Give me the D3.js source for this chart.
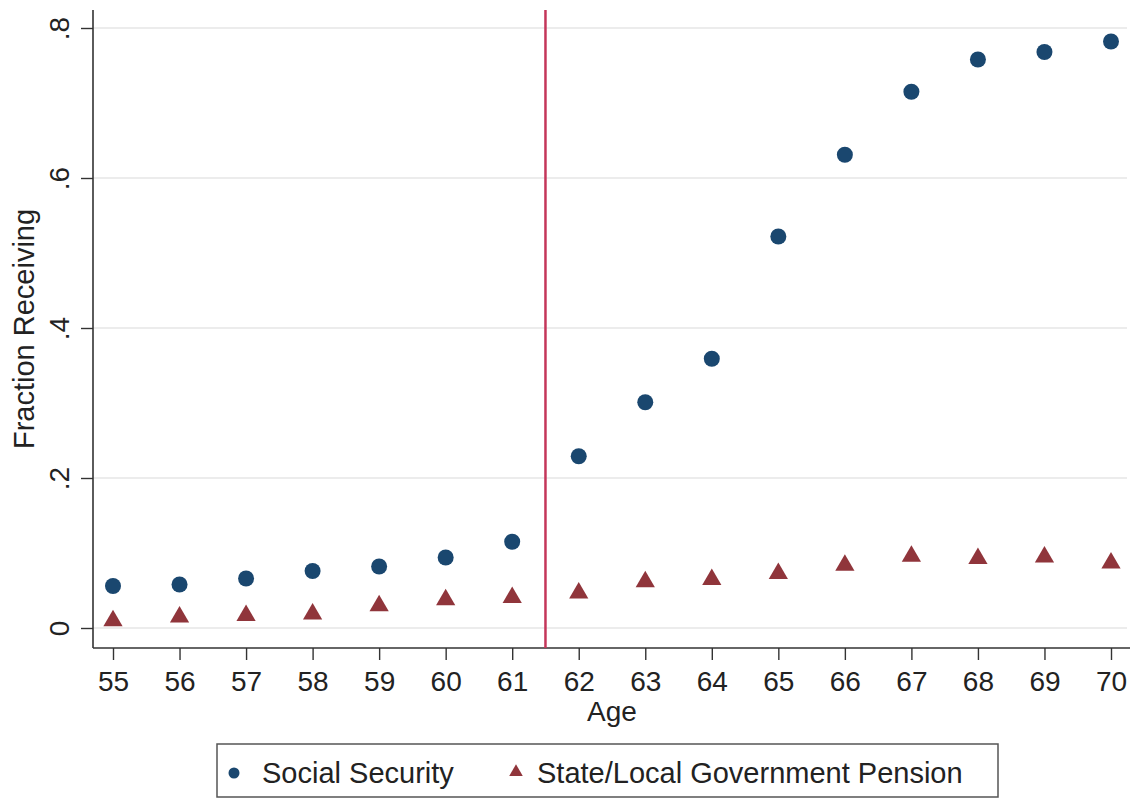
<!DOCTYPE html>
<html>
<head>
<meta charset="utf-8">
<script src="https://cdn.jsdelivr.net/npm/d3@7"></script>
<style>
  html, body { margin: 0; padding: 0; background: #fff; }
  svg { display: block; font-family: "Liberation Sans", Arial, sans-serif; }
</style>
</head>
<body>
<svg id="chart" width="1133" height="799"></svg>
<script>
// Fraction receiving benefits by age
const ages = [55, 56, 57, 58, 59, 60, 61, 62, 63, 64, 65, 66, 67, 68, 69, 70];
const socialSecurity = [0.056, 0.058, 0.066, 0.076, 0.082, 0.094, 0.115, 0.229, 0.301, 0.359, 0.522, 0.631, 0.715, 0.758, 0.768, 0.782];
const statePension = [0.011, 0.016, 0.018, 0.020, 0.031, 0.039, 0.042, 0.048, 0.063, 0.066, 0.074, 0.085, 0.097, 0.094, 0.096, 0.088];
const yTicks = [0, 0.2, 0.4, 0.6, 0.8];
const yTickLabels = ["0", ".2", ".4", ".6", ".8"];
const cutoffAge = 61.5;
const seriesNames = ["Social Security", "State/Local Government Pension"];

const svg = d3.select("#chart");
const plot = { left: 93, right: 1130, top: 10, bottom: 648 };
const fontSize = 28;

const x = d3.scaleLinear().domain([55, 70]).range([113, 1111]);
const y = d3.scaleLinear().domain([0, 0.8]).range([628, 28]);

const navy = "#1a476f";
const maroon = "#90353b";
const ink = "#222";

// horizontal grid lines
svg.append("g")
  .selectAll("line")
  .data(yTicks)
  .join("line")
  .attr("x1", plot.left).attr("x2", plot.right - 3)
  .attr("y1", d => y(d)).attr("y2", d => y(d))
  .attr("stroke", "#ececec").attr("stroke-width", 2);

// y axis
const yAxis = svg.append("g")
  .attr("transform", `translate(${plot.left},0)`)
  .call(d3.axisLeft(y).tickValues(yTicks).tickFormat((d, i) => yTickLabels[i]).tickSizeOuter(0).tickSize(12).tickPadding(0));
yAxis.select(".domain").remove();
yAxis.append("line")
  .attr("x1", 0).attr("x2", 0).attr("y1", plot.top).attr("y2", plot.bottom)
  .attr("stroke", "#333").attr("stroke-width", 1.6);
yAxis.selectAll(".tick line").attr("stroke", "#333").attr("stroke-width", 1.4);
yAxis.selectAll(".tick text")
  .attr("x", 0).attr("dy", 0)
  .attr("transform", "translate(-24,0) rotate(-90)")
  .attr("text-anchor", "middle")
  .attr("font-size", fontSize)
  .attr("fill", ink)
  .attr("font-family", "Liberation Sans, Arial, sans-serif");

// x axis
const xAxis = svg.append("g")
  .attr("transform", `translate(0,${plot.bottom})`)
  .call(d3.axisBottom(x).tickValues(ages).tickFormat(d3.format("d")).tickSizeOuter(0).tickSize(12).tickPadding(11));
xAxis.select(".domain").remove();
xAxis.append("line")
  .attr("x1", plot.left).attr("x2", plot.right).attr("y1", 0).attr("y2", 0)
  .attr("stroke", "#333").attr("stroke-width", 1.6);
xAxis.selectAll(".tick line").attr("stroke", "#333").attr("stroke-width", 1.4);
xAxis.selectAll(".tick text")
  .attr("font-size", fontSize)
  .attr("fill", ink)
  .attr("font-family", "Liberation Sans, Arial, sans-serif");

// axis titles
svg.append("text")
  .attr("x", (x(55) + x(70)) / 2).attr("y", 721)
  .attr("text-anchor", "middle")
  .attr("font-size", fontSize).attr("fill", ink)
  .text("Age");

svg.append("text")
  .attr("transform", `translate(34,${(plot.top + plot.bottom) / 2}) rotate(-90)`)
  .attr("text-anchor", "middle")
  .attr("font-size", 29).attr("fill", ink)
  .text("Fraction Receiving");

// cutoff line between 61 and 62
svg.append("line")
  .attr("x1", x(cutoffAge)).attr("x2", x(cutoffAge))
  .attr("y1", plot.top).attr("y2", plot.bottom)
  .attr("stroke", "#c4365a").attr("stroke-width", 2.5);

const triangle = d3.symbol().type(d3.symbolTriangle).size(160);

// pension markers
svg.append("g")
  .selectAll("path")
  .data(ages.map((a, i) => [a, statePension[i]]))
  .join("path")
  .attr("d", triangle)
  .attr("transform", d => `translate(${x(d[0])},${y(d[1]) + 1})`)
  .attr("fill", maroon);

// social security markers
svg.append("g")
  .selectAll("circle")
  .data(ages.map((a, i) => [a, socialSecurity[i]]))
  .join("circle")
  .attr("cx", d => x(d[0])).attr("cy", d => y(d[1]))
  .attr("r", 8)
  .attr("fill", navy);

// legend
const legend = svg.append("g");
legend.append("rect")
  .attr("x", 217).attr("y", 744).attr("width", 781).attr("height", 53)
  .attr("fill", "#fff").attr("stroke", "#555").attr("stroke-width", 1.5);
legend.append("circle")
  .attr("cx", 234).attr("cy", 773).attr("r", 5.5).attr("fill", navy);
legend.append("text")
  .attr("x", 262).attr("y", 783)
  .attr("font-size", 29).attr("fill", ink)
  .text(seriesNames[0]);
legend.append("path")
  .attr("d", d3.symbol().type(d3.symbolTriangle).size(80))
  .attr("transform", "translate(516,772)")
  .attr("fill", maroon);
legend.append("text")
  .attr("x", 537).attr("y", 783)
  .attr("font-size", 29).attr("fill", ink)
  .text(seriesNames[1]);
</script>
</body>
</html>
